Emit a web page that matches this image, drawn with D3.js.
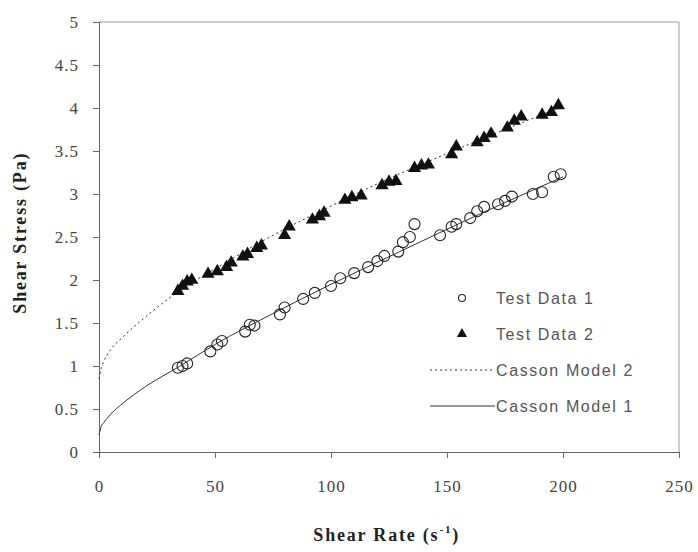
<!DOCTYPE html>
<html>
<head>
<meta charset="utf-8">
<script src="https://cdn.jsdelivr.net/npm/d3@7"></script>
<style>
  body { margin: 0; background: #fff; }
  .tick text { font-family: "Liberation Serif", "DejaVu Serif", serif; font-size: 17px; letter-spacing: 1px; fill: #444; }
  .axis path, .axis line { stroke: #666; }
  .title { font-family: "Liberation Serif", serif; font-weight: bold; font-size: 18px; letter-spacing: 1.8px; fill: #222; }
  .legend text { font-family: "Liberation Sans", Arial, sans-serif; font-size: 16px; letter-spacing: 1.6px; fill: #555; }
</style>
</head>
<body>
<svg id="chart" width="698" height="552"></svg>
<script>
// test data
const rate1 = [34, 36, 38, 48, 51, 53, 63, 65, 67, 78, 80, 88, 93, 100, 104, 110, 116, 120, 123,
  129, 131, 134, 136, 147, 152, 154, 160, 163, 166, 172, 175, 178, 187, 191, 196, 199];
const stress1 = [0.98, 1.0, 1.03, 1.17, 1.25, 1.29, 1.4, 1.48, 1.47, 1.6, 1.68, 1.78, 1.85, 1.93, 2.02,
  2.08, 2.15, 2.22, 2.28, 2.33, 2.44, 2.5, 2.65, 2.52, 2.62, 2.65, 2.72, 2.8, 2.85, 2.88, 2.92,
  2.97, 3.0, 3.02, 3.2, 3.23];

const rate2 = [34, 36, 38, 40, 47, 51, 55, 57, 62, 64, 68, 70, 80, 82, 92, 95, 97, 106, 109, 113,
  122, 125, 128, 136, 139, 142, 152, 154, 163, 166, 169, 176, 179, 182, 191, 195, 198];
const stress2 = [1.87, 1.93, 1.98, 2.0, 2.07, 2.1, 2.15, 2.2, 2.27, 2.3, 2.37, 2.4, 2.52, 2.62, 2.7,
  2.74, 2.78, 2.93, 2.96, 2.98, 3.1, 3.14, 3.15, 3.3, 3.33, 3.34, 3.46, 3.55, 3.6, 3.65, 3.7,
  3.77, 3.85, 3.9, 3.92, 3.95, 4.03];

// model curves, read at these shear rates
const modelRate = [0, 1, 2, 5, 10, 20, 35, 50, 75, 100, 125, 150, 175, 200];
const model1 = [0.2, 0.3, 0.34, 0.44, 0.56, 0.76, 1.0, 1.25, 1.61, 1.95, 2.27, 2.59, 2.9, 3.2];
const model2 = [0.85, 0.98, 1.05, 1.19, 1.33, 1.57, 1.88, 2.13, 2.52, 2.86, 3.18, 3.47, 3.75, 4.02];

const xTicks = [0, 50, 100, 150, 200, 250];
const yTicks = [0, 0.5, 1, 1.5, 2, 2.5, 3, 3.5, 4, 4.5, 5];
const legendLabels = ['Test Data 1', 'Test Data 2', 'Casson Model 2', 'Casson Model 1'];

const m = { t: 22, r: 19, b: 100, l: 99 };
const w = 698 - m.l - m.r, h = 552 - m.t - m.b;

const svg = d3.select('#chart');
const g = svg.append('g').attr('transform', `translate(${m.l},${m.t})`);

const x = d3.scaleLinear().domain([0, 250]).range([0, w]);
const y = d3.scaleLinear().domain([0, 5]).range([h, 0]);

// frame top/right
g.append('path')
    .attr('d', `M0,0H${w}V${h}`)
    .attr('fill', 'none')
    .attr('stroke', '#999')
    .attr('stroke-width', 1);

g.append('g')
    .attr('class', 'axis')
    .attr('transform', `translate(0,${h})`)
    .call(d3.axisBottom(x).tickValues(xTicks).tickSize(6).tickPadding(22).tickFormat(d3.format('d')));

g.append('g')
    .attr('class', 'axis')
    .call(d3.axisLeft(y).tickValues(yTicks).tickSize(6).tickPadding(14).tickFormat(d => d));

g.selectAll('.axis .domain').attr('stroke', '#666');

const line = d3.line().x(d => x(d[0])).y(d => y(d[1])).curve(d3.curveMonotoneX);

g.append('path')
    .datum(d3.zip(modelRate, model2))
    .attr('d', line)
    .attr('fill', 'none')
    .attr('stroke', '#333')
    .attr('stroke-width', 1)
    .attr('stroke-dasharray', '2,3');

g.append('path')
    .datum(d3.zip(modelRate, model1))
    .attr('d', line)
    .attr('fill', 'none')
    .attr('stroke', '#333')
    .attr('stroke-width', 1);

g.append('g').selectAll('circle')
    .data(d3.zip(rate1, stress1))
    .join('circle')
    .attr('cx', d => x(d[0]))
    .attr('cy', d => y(d[1]))
    .attr('r', 5.5)
    .attr('fill', 'none')
    .attr('stroke', '#222')
    .attr('stroke-width', 1.1);

const tri = d3.symbol().type(d3.symbolTriangle).size(75);
g.append('g').selectAll('path')
    .data(d3.zip(rate2, stress2))
    .join('path')
    .attr('transform', d => `translate(${x(d[0])},${y(d[1])})`)
    .attr('d', tri)
    .attr('fill', '#111');

// legend
const lg = g.append('g').attr('class', 'legend').attr('transform', 'translate(331,276)');
const rowY = i => i * 36;
lg.append('circle').attr('cx', 32).attr('cy', rowY(0)).attr('r', 3.5)
    .attr('fill', 'none').attr('stroke', '#222').attr('stroke-width', 1.1);
lg.append('path').attr('transform', `translate(32,${rowY(1)})`)
    .attr('d', d3.symbol().type(d3.symbolTriangle).size(45)).attr('fill', '#111');
lg.append('line').attr('x1', 0).attr('x2', 63).attr('y1', rowY(2)).attr('y2', rowY(2))
    .attr('stroke', '#333').attr('stroke-dasharray', '2,3');
lg.append('line').attr('x1', 0).attr('x2', 65).attr('y1', rowY(3)).attr('y2', rowY(3))
    .attr('stroke', '#333');
lg.selectAll('text')
    .data(legendLabels)
    .join('text')
    .attr('x', 66)
    .attr('y', (d, i) => rowY(i))
    .attr('dy', '0.35em')
    .text(d => d);

// axis titles
svg.append('text')
    .attr('class', 'title')
    .attr('x', m.l + x(124))
    .attr('y', 541)
    .attr('text-anchor', 'middle')
    .text('Shear Rate (s')
  .append('tspan')
    .attr('dy', -8)
    .attr('font-size', 11)
    .text('-1')
  .select(function() { return this.parentNode; })
  .append('tspan')
    .attr('dy', 8)
    .text(')');

svg.append('text')
    .attr('class', 'title')
    .attr('transform', `translate(26,${m.t + y(2.55)}) rotate(-90)`)
    .attr('text-anchor', 'middle')
    .text('Shear Stress (Pa)');
</script>
</body>
</html>
